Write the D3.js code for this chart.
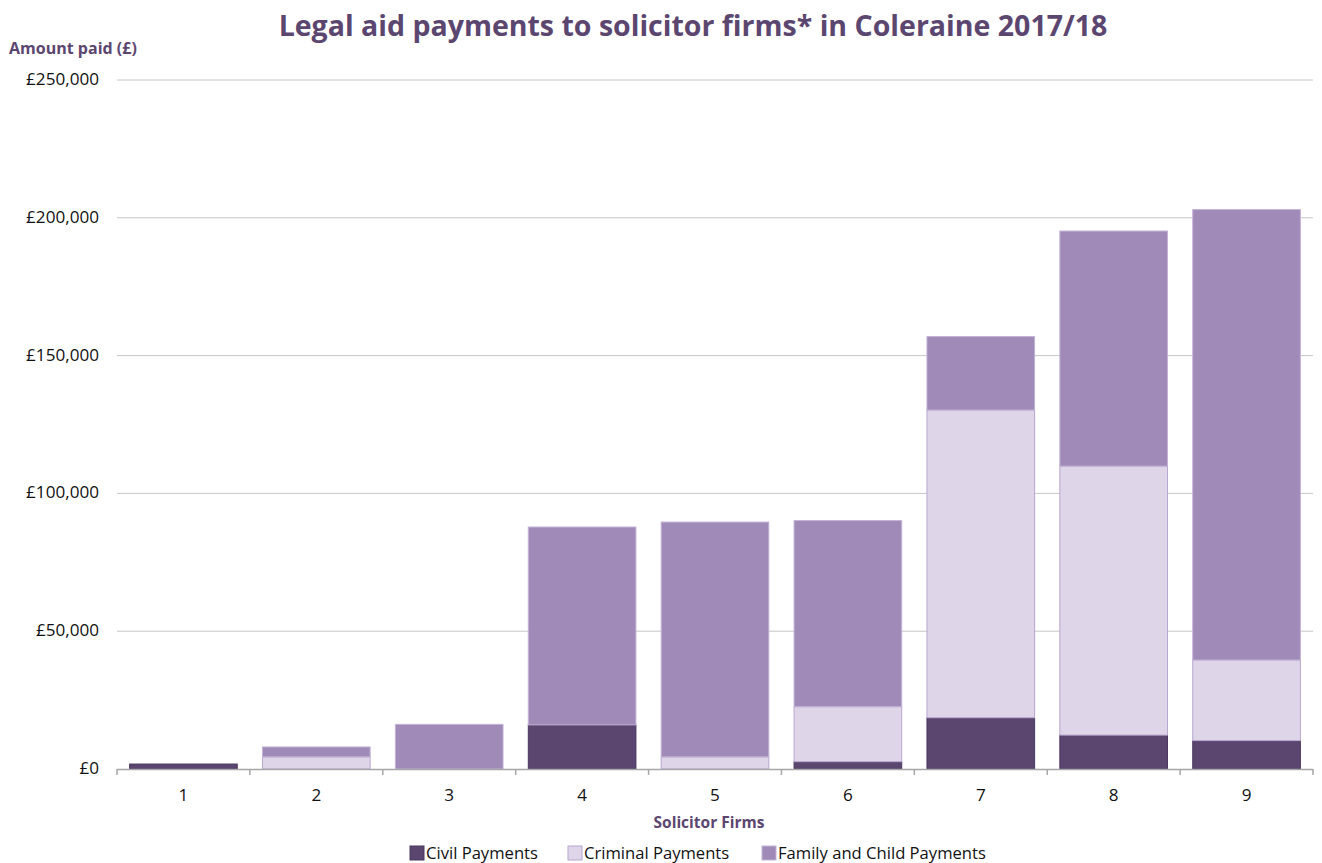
<!DOCTYPE html>
<html>
<head>
<meta charset="utf-8">
<script src="https://cdn.jsdelivr.net/npm/d3@7"></script>
<style>
  body { margin: 0; background: #fff; }
  svg { font-family: "Open Sans", sans-serif; }
</style>
</head>
<body>
<svg id="chart" width="1322" height="863"></svg>
<script>
var firms = ["1", "2", "3", "4", "5", "6", "7", "8", "9"];
var civil = [1800, 0, 0, 16000, 0, 2650, 18600, 12300, 10300];
var criminal = [0, 4400, 0, 0, 4400, 19950, 111650, 97600, 29250];
var family = [0, 3600, 16200, 71800, 85200, 67550, 26650, 85300, 163450];
var seriesNames = ["Civil Payments", "Criminal Payments", "Family and Child Payments"];
var yTicks = [0, 50000, 100000, 150000, 200000, 250000];

(function () {
    var svg = d3.select("#chart");
    var left = 117, right = 1313, top = 80, bottom = 769;
    var purple = "#5b4670";

    var rows = firms.map((f, i) => ({ firm: f, civil: civil[i], criminal: criminal[i], family: family[i] }));
    var keys = ["civil", "criminal", "family"];
    var fills = { civil: "#5b4670", criminal: "#ded6e8", family: "#a08ab7" };
    var strokes = { civil: "#4a3860", criminal: "#b8a6cf", family: "#c3b3d6" };

    var x = d3.scaleBand().domain(firms).range([left, right]).paddingInner(0.19).paddingOuter(0.095);
    var xb = d3.scaleBand().domain(firms).range([left, right]);
    var y = d3.scaleLinear().domain([0, 250000]).range([bottom, top]);

    // font size that makes a text as wide as measured in the picture
    function fitSize(sel, w) {
        var n = sel.node(), fs = parseFloat(sel.attr("font-size"));
        var len = n.getComputedTextLength();
        return len > 0 ? (fs * w / len).toFixed(2) + "px" : fs + "px";
    }
    function fit(sel, w) { sel.attr("font-size", fitSize(sel, w)); }

    // gridlines + y labels
    svg.append("g")
        .selectAll("line")
        .data(yTicks.filter(d => d > 0))
        .join("line")
        .attr("x1", left).attr("x2", right)
        .attr("y1", d => y(d)).attr("y2", d => y(d))
        .attr("stroke", "#c6c6c6").attr("stroke-width", 1);

    var yLabels = svg.append("g")
        .selectAll("text")
        .data(yTicks)
        .join("text")
        .attr("x", 99)
        .attr("y", d => y(d) + 5)
        .attr("text-anchor", "end")
        .attr("font-size", "14px")
        .attr("fill", "#111")
        .text(d => "£" + d3.format(",")(d));
    var ySize = fitSize(yLabels.filter(d => d === 250000), 73);
    yLabels.attr("font-size", ySize);

    var stack = d3.stack().keys(keys)(rows);

    svg.append("g")
        .selectAll("g")
        .data(stack)
        .join("g")
        .attr("fill", d => fills[d.key])
        .attr("stroke", d => strokes[d.key])
        .selectAll("rect")
        .data(d => d.filter(p => p[1] - p[0] > 0))
        .join("rect")
        .attr("x", d => x(d.data.firm))
        .attr("width", x.bandwidth())
        .attr("y", d => y(d[1]))
        .attr("height", d => y(d[0]) - y(d[1]))
        .attr("stroke-width", 1);

    // x axis
    svg.append("line")
        .attr("x1", left).attr("x2", right)
        .attr("y1", bottom + 0.5).attr("y2", bottom + 0.5)
        .attr("stroke", "#a6a6a6").attr("stroke-width", 1.5);

    var bounds = firms.map(f => xb(f)).concat([right]);
    svg.append("g")
        .selectAll("line")
        .data(bounds)
        .join("line")
        .attr("x1", d => d).attr("x2", d => d)
        .attr("y1", bottom).attr("y2", bottom + 6)
        .attr("stroke", "#a6a6a6").attr("stroke-width", 1.5);

    svg.append("g")
        .selectAll("text")
        .data(firms)
        .join("text")
        .attr("x", d => xb(d) + xb.bandwidth() / 2)
        .attr("y", 801)
        .attr("text-anchor", "middle")
        .attr("font-size", ySize)
        .attr("fill", "#111")
        .text(d => d);

    var xl = svg.append("text")
        .attr("x", 709).attr("y", 828)
        .attr("text-anchor", "middle")
        .attr("font-size", "14px").attr("font-weight", "bold")
        .attr("fill", purple)
        .text("Solicitor Firms");
    fit(xl, 111);

    // title + y label
    var title = svg.append("text")
        .attr("x", 693).attr("y", 36)
        .attr("text-anchor", "middle")
        .attr("font-size", "26px").attr("font-weight", "bold")
        .attr("fill", purple)
        .text("Legal aid payments to solicitor firms* in Coleraine 2017/18");
    fit(title, 829);

    var yl = svg.append("text")
        .attr("x", 9).attr("y", 54)
        .attr("font-size", "13px").attr("font-weight", "bold")
        .attr("fill", purple)
        .text("Amount paid (£)");
    fit(yl, 128);

    // legend
    var legendX = [410, 568, 762];
    var lg = svg.append("g")
        .selectAll("g")
        .data(keys)
        .join("g")
        .attr("transform", (d, i) => "translate(" + legendX[i] + ",846)");
    lg.append("rect")
        .attr("width", 14).attr("height", 14)
        .attr("fill", d => fills[d]).attr("stroke", d => strokes[d]);
    var lt = lg.append("text")
        .attr("x", 16).attr("y", 13)
        .attr("font-size", "14px").attr("fill", "#111")
        .text((d, i) => seriesNames[i]);
    lt.attr("font-size", fitSize(lt.filter((d, i) => i === 0), 112));
})();
</script>
</body>
</html>
